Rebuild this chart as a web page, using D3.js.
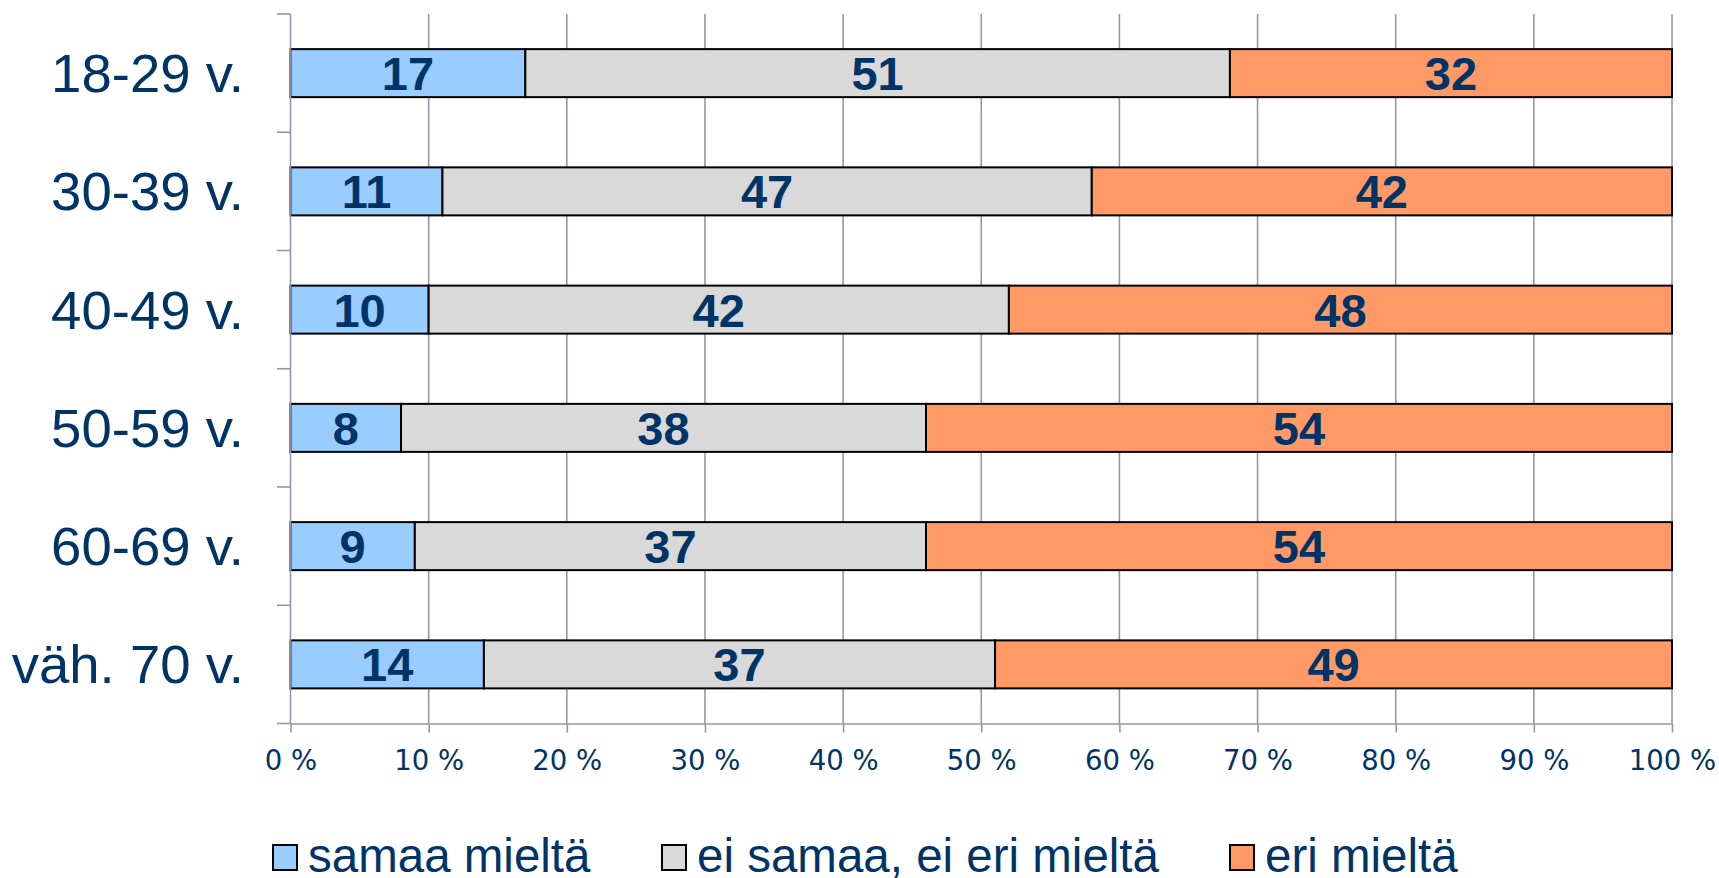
<!DOCTYPE html>
<html>
<head>
<meta charset="utf-8">
<script src="https://cdn.jsdelivr.net/npm/d3@7"></script>
<style>
  html, body { margin: 0; padding: 0; background: #ffffff; }
  svg { display: block; }
</style>
</head>
<body>
<svg id="chart" width="1719" height="878"></svg>
<script>
const categories = ["18-29 v.", "30-39 v.", "40-49 v.", "50-59 v.", "60-69 v.", "väh. 70 v."];
const seriesNames = ["samaa mieltä", "ei samaa, ei eri mieltä", "eri mieltä"];
const samaa = [17, 11, 10, 8, 9, 14];
const eiSamaa = [51, 47, 42, 38, 37, 37];
const eri = [32, 42, 48, 54, 54, 49];
const xTicks = [0, 10, 20, 30, 40, 50, 60, 70, 80, 90, 100];
const colors = ["#99ccff", "#d9d9d9", "#ff9966"];

const textColor = "#003366";
const gridColor = "#9696aa";

const svg = d3.select("#chart");
const plotL = 290.5, plotR = 1672, plotT = 14, plotB = 723.5;

const x = d3.scaleLinear().domain([0, 100]).range([plotL, plotR]);
const y = d3.scaleBand().domain(categories).range([plotT, plotB]).padding(0);
const barH = y.bandwidth() * 0.406;

// gridlines
svg.append("g").selectAll("line").data(xTicks.slice(1)).join("line")
  .attr("x1", d => x(d)).attr("x2", d => x(d))
  .attr("y1", plotT).attr("y2", plotB)
  .attr("stroke", gridColor).attr("stroke-width", 1.6);

// stacked data
const rows = categories.map((c, i) => ({ cat: c, vals: [samaa[i], eiSamaa[i], eri[i]] }));
const segs = [];
rows.forEach(r => {
  let acc = 0;
  r.vals.forEach((v, k) => {
    segs.push({ cat: r.cat, k, v, x0: acc, x1: acc + v });
    acc += v;
  });
});

const bars = svg.append("g");
bars.selectAll("rect").data(segs).join("rect")
  .attr("x", d => x(d.x0))
  .attr("width", d => x(d.x1) - x(d.x0))
  .attr("y", d => y(d.cat) + (y.bandwidth() - barH) / 2)
  .attr("height", barH)
  .attr("fill", d => colors[d.k])
  .attr("stroke", "#000")
  .attr("stroke-width", 2);

bars.selectAll("text").data(segs).join("text")
  .attr("x", d => x((d.x0 + d.x1) / 2))
  .attr("y", d => y(d.cat) + y.bandwidth() / 2 + 17)
  .attr("text-anchor", "middle")
  .attr("font-family", "Liberation Sans, Arial, sans-serif")
  .attr("font-weight", "bold")
  .attr("font-size", 47)
  .attr("fill", textColor)
  .text(d => d.v);

// left axis
const yBounds = d3.range(categories.length + 1).map(i => plotT + i * y.step());
const la = svg.append("g");
la.append("line").attr("x1", plotL).attr("x2", plotL).attr("y1", plotT).attr("y2", plotB)
  .attr("stroke", gridColor).attr("stroke-width", 1.6);
la.selectAll("line.t").data(yBounds).join("line").attr("class", "t")
  .attr("x1", plotL - 13.5).attr("x2", plotL).attr("y1", d => d).attr("y2", d => d)
  .attr("stroke", gridColor).attr("stroke-width", 1.6);
la.selectAll("text").data(categories).join("text")
  .attr("x", 244)
  .attr("y", d => y(d) + y.bandwidth() / 2 + 19)
  .attr("text-anchor", "end")
  .attr("font-family", "Liberation Sans, Arial, sans-serif")
  .attr("font-size", 54.5)
  .attr("fill", textColor)
  .text(d => d);

// bottom axis
const xAxis = d3.axisBottom(x).tickValues(xTicks).tickSize(9).tickSizeOuter(0)
  .tickFormat(d => d + " %");
const ga = svg.append("g").attr("transform", `translate(0,${plotB})`).call(xAxis);
ga.select(".domain").attr("stroke", gridColor).attr("stroke-width", 1.6);
ga.selectAll(".tick line").attr("stroke", gridColor).attr("stroke-width", 1.6);
ga.selectAll(".tick text")
  .attr("y", 0).attr("dy", null)
  .attr("transform", "translate(0,46)")
  .attr("font-family", "DejaVu Sans, Verdana, sans-serif")
  .attr("font-size", 27.5)
  .attr("fill", textColor);

// legend
const legendX = [272, 661, 1229];
const lg = svg.append("g");
const items = lg.selectAll("g").data(seriesNames).join("g")
  .attr("transform", (d, i) => `translate(${legendX[i]},845)`);
items.append("rect").attr("x", 1).attr("y", 0).attr("width", 24).attr("height", 25)
  .attr("fill", (d, i) => colors[i]).attr("stroke", "#000").attr("stroke-width", 2);
items.append("text").attr("x", 36).attr("y", 27)
  .attr("font-family", "Liberation Sans, Arial, sans-serif")
  .attr("font-size", 47.5)
  .attr("fill", textColor)
  .text(d => d);
</script>
</body>
</html>
